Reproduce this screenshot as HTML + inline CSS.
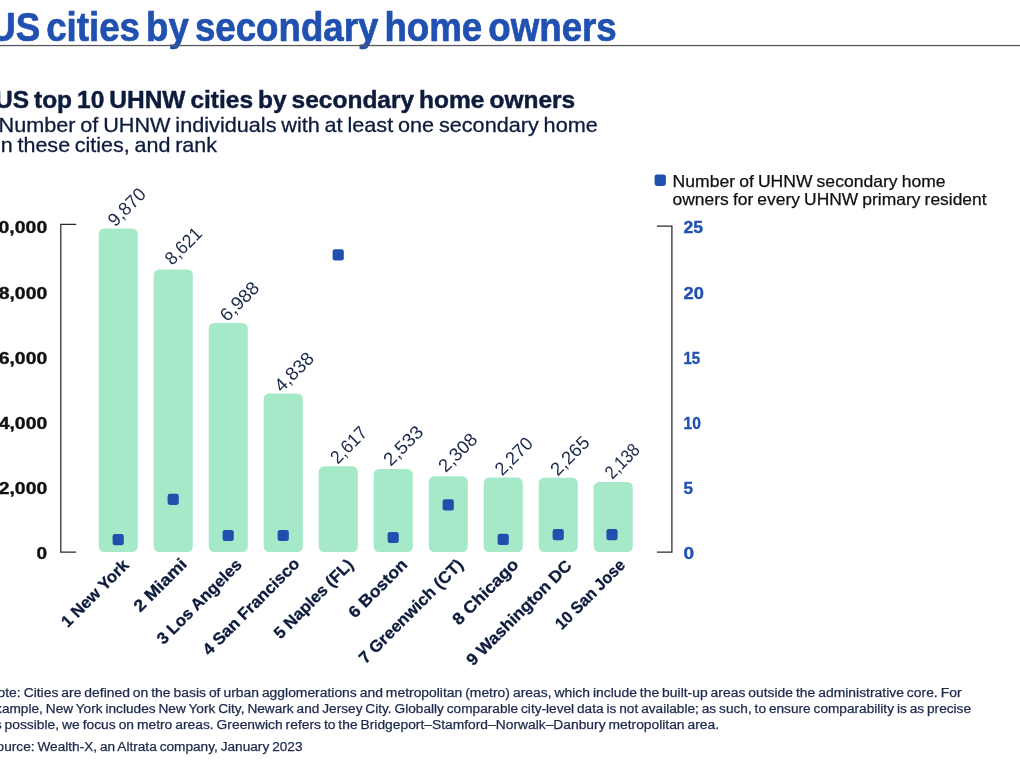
<!DOCTYPE html>
<html lang="en">
<head>
<meta charset="utf-8">
<title>US cities by secondary home owners</title>
<style>
html,body{margin:0;padding:0;background:#ffffff;}
body{width:1020px;height:764px;overflow:hidden;font-family:"Liberation Sans",sans-serif;}
svg{display:block;font-family:"Liberation Sans",sans-serif;will-change:transform;}
text{white-space:pre;}
</style>
</head>
<body>
<svg width="1020" height="764" viewBox="0 0 1020 764">
<rect x="0" y="0" width="1020" height="764" fill="#ffffff"/>
<text id="title" x="-10.8" y="41.0" font-size="40" font-weight="bold" fill="#2050b0" text-anchor="start" textLength="627.5" lengthAdjust="spacingAndGlyphs" stroke="#2050b0" stroke-width="0.7" stroke-linejoin="round" style="word-spacing:-4.5px">US cities by secondary home owners</text>
<rect id="rule" x="0" y="44.9" width="1020" height="1.3" fill="#5a5a5a"/>
<text id="sub1" x="-5" y="108.4" font-size="24" font-weight="bold" fill="#0d1c3d" text-anchor="start" textLength="580.2" lengthAdjust="spacingAndGlyphs" stroke="#0d1c3d" stroke-width="0.45" stroke-linejoin="round" style="word-spacing:-1.8px">US top 10 UHNW cities by secondary home owners</text>
<text id="sub2" x="-1.5" y="131.5" font-size="21" font-weight="normal" fill="#0d1c3d" text-anchor="start" textLength="599.3" lengthAdjust="spacingAndGlyphs" stroke="#0d1c3d" stroke-width="0.3" stroke-linejoin="round" style="word-spacing:-1.2px">Number of UHNW individuals with at least one secondary home</text>
<text id="sub3" x="-4" y="152.1" font-size="21" font-weight="normal" fill="#0d1c3d" text-anchor="start" textLength="221" lengthAdjust="spacingAndGlyphs" stroke="#0d1c3d" stroke-width="0.3" stroke-linejoin="round" style="word-spacing:-1.2px">in these cities, and rank</text>
<rect id="legmark" x="654.6" y="174.6" width="11.3" height="11.3" rx="2.4" ry="2.4" fill="#1f50ad"/>
<text id="leg1" x="672.6" y="186.7" font-size="16.5" font-weight="normal" fill="#111111" text-anchor="start" textLength="273" lengthAdjust="spacingAndGlyphs" stroke="#111111" stroke-width="0.25" stroke-linejoin="round" style="word-spacing:-0.7px">Number of UHNW secondary home</text>
<text id="leg2" x="672.6" y="204.7" font-size="16.5" font-weight="normal" fill="#111111" text-anchor="start" textLength="314" lengthAdjust="spacingAndGlyphs" stroke="#111111" stroke-width="0.25" stroke-linejoin="round" style="word-spacing:-0.7px">owners for every UHNW primary resident</text>
<path id="axL" d="M76.2 224.4 H60.8 V552.0 H76.2" fill="none" stroke="#2a2a2a" stroke-width="1.25"/>
<path id="axR" d="M656.9 226.1 H671.9 V552.0 H656.9" fill="none" stroke="#2a2a2a" stroke-width="1.25"/>
<text id="yl0" x="47.2" y="233.2" font-size="16.5" font-weight="bold" fill="#111111" text-anchor="end" textLength="59.5" lengthAdjust="spacingAndGlyphs" stroke="#111111" stroke-width="0.35" stroke-linejoin="round">10,000</text>
<text id="rl0" x="683.5" y="233.2" font-size="16.5" font-weight="bold" fill="#2050b0" text-anchor="start" textLength="19.5" lengthAdjust="spacingAndGlyphs" stroke="#2050b0" stroke-width="0.35" stroke-linejoin="round">25</text>
<text id="yl1" x="47.2" y="299.2" font-size="16.5" font-weight="bold" fill="#111111" text-anchor="end" textLength="48.5" lengthAdjust="spacingAndGlyphs" stroke="#111111" stroke-width="0.35" stroke-linejoin="round">8,000</text>
<text id="rl1" x="683.5" y="299.2" font-size="16.5" font-weight="bold" fill="#2050b0" text-anchor="start" textLength="20.3" lengthAdjust="spacingAndGlyphs" stroke="#2050b0" stroke-width="0.35" stroke-linejoin="round">20</text>
<text id="yl2" x="47.2" y="363.59999999999997" font-size="16.5" font-weight="bold" fill="#111111" text-anchor="end" textLength="48.5" lengthAdjust="spacingAndGlyphs" stroke="#111111" stroke-width="0.35" stroke-linejoin="round">6,000</text>
<text id="rl2" x="683.5" y="363.59999999999997" font-size="16.5" font-weight="bold" fill="#2050b0" text-anchor="start" textLength="16.7" lengthAdjust="spacingAndGlyphs" stroke="#2050b0" stroke-width="0.35" stroke-linejoin="round">15</text>
<text id="yl3" x="47.2" y="428.8" font-size="16.5" font-weight="bold" fill="#111111" text-anchor="end" textLength="48.5" lengthAdjust="spacingAndGlyphs" stroke="#111111" stroke-width="0.35" stroke-linejoin="round">4,000</text>
<text id="rl3" x="683.5" y="428.8" font-size="16.5" font-weight="bold" fill="#2050b0" text-anchor="start" textLength="17.3" lengthAdjust="spacingAndGlyphs" stroke="#2050b0" stroke-width="0.35" stroke-linejoin="round">10</text>
<text id="yl4" x="47.2" y="494.0" font-size="16.5" font-weight="bold" fill="#111111" text-anchor="end" textLength="48.5" lengthAdjust="spacingAndGlyphs" stroke="#111111" stroke-width="0.35" stroke-linejoin="round">2,000</text>
<text id="rl4" x="683.5" y="494.0" font-size="16.5" font-weight="bold" fill="#2050b0" text-anchor="start" textLength="9.5" lengthAdjust="spacingAndGlyphs" stroke="#2050b0" stroke-width="0.35" stroke-linejoin="round">5</text>
<text id="yl5" x="47.2" y="559.2" font-size="16.5" font-weight="bold" fill="#111111" text-anchor="end" textLength="10.6" lengthAdjust="spacingAndGlyphs" stroke="#111111" stroke-width="0.35" stroke-linejoin="round">0</text>
<text id="rl5" x="683.5" y="559.2" font-size="16.5" font-weight="bold" fill="#2050b0" text-anchor="start" textLength="10.6" lengthAdjust="spacingAndGlyphs" stroke="#2050b0" stroke-width="0.35" stroke-linejoin="round">0</text>
<rect id="bar0" x="98.7" y="228.46" width="39.1" height="323.54" rx="5.5" ry="5.5" fill="#a5e9c9"/>
<rect id="bar1" x="153.7" y="269.4" width="39.1" height="282.6" rx="5.5" ry="5.5" fill="#a5e9c9"/>
<rect id="bar2" x="208.7" y="322.93" width="39.1" height="229.07" rx="5.5" ry="5.5" fill="#a5e9c9"/>
<rect id="bar3" x="263.7" y="393.41" width="39.1" height="158.59" rx="5.5" ry="5.5" fill="#a5e9c9"/>
<rect id="bar4" x="318.7" y="466.21" width="39.1" height="85.79" rx="5.5" ry="5.5" fill="#a5e9c9"/>
<rect id="bar5" x="373.7" y="468.97" width="39.1" height="83.03" rx="5.5" ry="5.5" fill="#a5e9c9"/>
<rect id="bar6" x="428.7" y="476.34" width="39.1" height="75.66" rx="5.5" ry="5.5" fill="#a5e9c9"/>
<rect id="bar7" x="483.7" y="477.59" width="39.1" height="74.41" rx="5.5" ry="5.5" fill="#a5e9c9"/>
<rect id="bar8" x="538.7" y="477.75" width="39.1" height="74.25" rx="5.5" ry="5.5" fill="#a5e9c9"/>
<rect id="bar9" x="593.7" y="481.92" width="39.1" height="70.08" rx="5.5" ry="5.5" fill="#a5e9c9"/>
<rect id="mk0" x="112.6" y="534.05" width="11.2" height="11.2" rx="2.3" ry="2.3" fill="#1f50ad"/>
<text id="vl0" transform="translate(115.2 227.46) rotate(-45)" font-size="18.5" font-weight="normal" fill="#1b2a4b" text-anchor="start" textLength="45.18" lengthAdjust="spacingAndGlyphs">9,870</text>
<text id="xl0" transform="translate(129.85 566.2) rotate(-45)" font-size="16.5" font-weight="bold" fill="#0d1c3d" text-anchor="end" textLength="87.86" lengthAdjust="spacingAndGlyphs" stroke="#0d1c3d" stroke-width="0.3" stroke-linejoin="round">1 New York</text>
<rect id="mk1" x="167.6" y="493.7" width="11.2" height="11.2" rx="2.3" ry="2.3" fill="#1f50ad"/>
<text id="vl1" transform="translate(172.2 265.9) rotate(-45)" font-size="18.5" font-weight="normal" fill="#1b2a4b" text-anchor="start" textLength="43.89" lengthAdjust="spacingAndGlyphs">8,621</text>
<text id="xl1" transform="translate(187.8 565.2) rotate(-45)" font-size="16.5" font-weight="bold" fill="#0d1c3d" text-anchor="end" textLength="67.32" lengthAdjust="spacingAndGlyphs" stroke="#0d1c3d" stroke-width="0.3" stroke-linejoin="round">2 Miami</text>
<rect id="mk2" x="222.6" y="529.9" width="11.2" height="11.2" rx="2.3" ry="2.3" fill="#1f50ad"/>
<text id="vl2" transform="translate(227.2 322.43) rotate(-45)" font-size="18.5" font-weight="normal" fill="#1b2a4b" text-anchor="start" textLength="47.01" lengthAdjust="spacingAndGlyphs">6,988</text>
<text id="xl2" transform="translate(242.9 565.75) rotate(-45)" font-size="16.5" font-weight="bold" fill="#0d1c3d" text-anchor="end" textLength="112.39" lengthAdjust="spacingAndGlyphs" stroke="#0d1c3d" stroke-width="0.3" stroke-linejoin="round">3 Los Angeles</text>
<rect id="mk3" x="277.6" y="529.9" width="11.2" height="11.2" rx="2.3" ry="2.3" fill="#1f50ad"/>
<text id="vl3" transform="translate(281.7 392.91) rotate(-45)" font-size="18.5" font-weight="normal" fill="#1b2a4b" text-anchor="start" textLength="47.15" lengthAdjust="spacingAndGlyphs">4,838</text>
<text id="xl3" transform="translate(300.6 564.8) rotate(-45)" font-size="16.5" font-weight="bold" fill="#0d1c3d" text-anchor="end" textLength="129.23" lengthAdjust="spacingAndGlyphs" stroke="#0d1c3d" stroke-width="0.3" stroke-linejoin="round">4 San Francisco</text>
<rect id="mk4" x="332.6" y="249.3" width="11.2" height="11.2" rx="2.3" ry="2.3" fill="#1f50ad"/>
<text id="vl4" transform="translate(337.7 464.71) rotate(-45)" font-size="18.5" font-weight="normal" fill="#1b2a4b" text-anchor="start" textLength="43.47" lengthAdjust="spacingAndGlyphs">2,617</text>
<text id="xl4" transform="translate(354.35 565.75) rotate(-45)" font-size="16.5" font-weight="bold" fill="#0d1c3d" text-anchor="end" textLength="104.59" lengthAdjust="spacingAndGlyphs" stroke="#0d1c3d" stroke-width="0.3" stroke-linejoin="round">5 Naples (FL)</text>
<rect id="mk5" x="387.6" y="531.9" width="11.2" height="11.2" rx="2.3" ry="2.3" fill="#1f50ad"/>
<text id="vl5" transform="translate(390.7 466.97) rotate(-45)" font-size="18.5" font-weight="normal" fill="#1b2a4b" text-anchor="start" textLength="47.86" lengthAdjust="spacingAndGlyphs">2,533</text>
<text id="xl5" transform="translate(408.35 565.6) rotate(-45)" font-size="16.5" font-weight="bold" fill="#0d1c3d" text-anchor="end" textLength="75.53" lengthAdjust="spacingAndGlyphs" stroke="#0d1c3d" stroke-width="0.3" stroke-linejoin="round">6 Boston</text>
<rect id="mk6" x="442.6" y="499.3" width="11.2" height="11.2" rx="2.3" ry="2.3" fill="#1f50ad"/>
<text id="vl6" transform="translate(445.7 473.34) rotate(-45)" font-size="18.5" font-weight="normal" fill="#1b2a4b" text-anchor="start" textLength="46.3" lengthAdjust="spacingAndGlyphs">2,308</text>
<text id="xl6" transform="translate(464.3 565.75) rotate(-45)" font-size="16.5" font-weight="bold" fill="#0d1c3d" text-anchor="end" textLength="139.8" lengthAdjust="spacingAndGlyphs" stroke="#0d1c3d" stroke-width="0.3" stroke-linejoin="round">7 Greenwich (CT)</text>
<rect id="mk7" x="497.6" y="533.8" width="11.2" height="11.2" rx="2.3" ry="2.3" fill="#1f50ad"/>
<text id="vl7" transform="translate(502.2 476.59) rotate(-45)" font-size="18.5" font-weight="normal" fill="#1b2a4b" text-anchor="start" textLength="45.29" lengthAdjust="spacingAndGlyphs">2,270</text>
<text id="xl7" transform="translate(519.45 565.55) rotate(-45)" font-size="16.5" font-weight="bold" fill="#0d1c3d" text-anchor="end" textLength="85.49" lengthAdjust="spacingAndGlyphs" stroke="#0d1c3d" stroke-width="0.3" stroke-linejoin="round">8 Chicago</text>
<rect id="mk8" x="552.6" y="529.0" width="11.2" height="11.2" rx="2.3" ry="2.3" fill="#1f50ad"/>
<text id="vl8" transform="translate(557.7 476.75) rotate(-45)" font-size="18.5" font-weight="normal" fill="#1b2a4b" text-anchor="start" textLength="46.71" lengthAdjust="spacingAndGlyphs">2,265</text>
<text id="xl8" transform="translate(572.85 566.75) rotate(-45)" font-size="16.5" font-weight="bold" fill="#0d1c3d" text-anchor="end" textLength="141.19" lengthAdjust="spacingAndGlyphs" stroke="#0d1c3d" stroke-width="0.3" stroke-linejoin="round">9 Washington DC</text>
<rect id="mk9" x="606.4" y="529.0" width="11.2" height="11.2" rx="2.3" ry="2.3" fill="#1f50ad"/>
<text id="vl9" transform="translate(612.2 479.92) rotate(-45)" font-size="18.5" font-weight="normal" fill="#1b2a4b" text-anchor="start" textLength="40.63" lengthAdjust="spacingAndGlyphs">2,138</text>
<text id="xl9" transform="translate(626.25 566.0) rotate(-45)" font-size="16.5" font-weight="bold" fill="#0d1c3d" text-anchor="end" textLength="91.3" lengthAdjust="spacingAndGlyphs" stroke="#0d1c3d" stroke-width="0.3" stroke-linejoin="round">10 San Jose</text>
<text id="fn1" x="-12.5" y="697.2" font-size="12.5" font-weight="normal" fill="#1b2a4b" text-anchor="start" textLength="974" lengthAdjust="spacingAndGlyphs" stroke="#1b2a4b" stroke-width="0.25" stroke-linejoin="round" style="word-spacing:-0.8px">Note: Cities are defined on the basis of urban agglomerations and metropolitan (metro) areas, which include the built-up areas outside the administrative core. For</text>
<text id="fn2" x="-12.5" y="712.9" font-size="12.5" font-weight="normal" fill="#1b2a4b" text-anchor="start" textLength="983.5" lengthAdjust="spacingAndGlyphs" stroke="#1b2a4b" stroke-width="0.25" stroke-linejoin="round" style="word-spacing:-0.8px">example, New York includes New York City, Newark and Jersey City. Globally comparable city-level data is not available; as such, to ensure comparability is as precise</text>
<text id="fn3" x="-13" y="728.6" font-size="12.5" font-weight="normal" fill="#1b2a4b" text-anchor="start" textLength="732" lengthAdjust="spacingAndGlyphs" stroke="#1b2a4b" stroke-width="0.25" stroke-linejoin="round" style="word-spacing:-0.8px">as possible, we focus on metro areas. Greenwich refers to the Bridgeport–Stamford–Norwalk–Danbury metropolitan area.</text>
<text id="fn4" x="-12.5" y="750.5" font-size="12.5" font-weight="normal" fill="#1b2a4b" text-anchor="start" textLength="315" lengthAdjust="spacingAndGlyphs" stroke="#1b2a4b" stroke-width="0.25" stroke-linejoin="round" style="word-spacing:-0.8px">Source: Wealth-X, an Altrata company, January 2023</text>
</svg>
</body>
</html>
